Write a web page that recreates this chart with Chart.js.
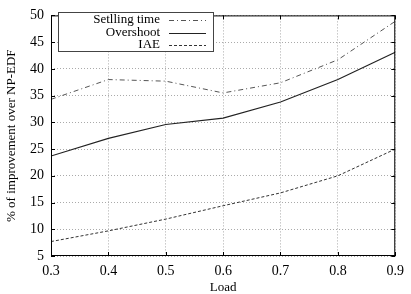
<!DOCTYPE html>
<html><head><meta charset="utf-8">
<script src="https://cdn.jsdelivr.net/npm/chart.js@4/dist/chart.umd.min.js"></script>
<style>html,body{margin:0;padding:0;background:#fff}#w{width:411px;height:294px}</style>
</head><body><div id="w"><canvas id="c" width="411" height="294"></canvas></div>
<script>
const loads = [0.3, 0.4, 0.5, 0.6, 0.7, 0.8, 0.9];
const settlingTime = [34.3, 38.0, 37.7, 35.5, 37.4, 41.7, 48.9];
const overshoot = [23.7, 27.0, 29.6, 30.8, 33.8, 38.0, 43.1];
const iae = [7.7, 9.7, 11.9, 14.4, 16.8, 20.0, 25.0];
const seriesLabels = ['Setlling time', 'Overshoot', 'IAE'];
const xTicks = [0.3, 0.4, 0.5, 0.6, 0.7, 0.8, 0.9];
const yTicks = [5, 10, 15, 20, 25, 30, 35, 40, 45, 50];

const FONT = 'Liberation Serif';
const pts = arr => arr.map((v, i) => ({x: loads[i], y: v}));

const frame = {
  id: 'frame',
  afterDraw(chart) {
    const {ctx, chartArea: a, scales} = chart;
    ctx.save();
    ctx.strokeStyle = '#000'; ctx.lineWidth = 1; ctx.setLineDash([]);
    ctx.strokeRect(a.left + 0.5, a.top + 0.5, a.right - a.left - 1, a.bottom - a.top - 1);
    const L = 4;
    ctx.beginPath();
    xTicks.forEach(t => {
      const x = Math.round(scales.x.getPixelForValue(t)) + 0.5;
      ctx.moveTo(x, a.bottom); ctx.lineTo(x, a.bottom - L);
      ctx.moveTo(x, a.top); ctx.lineTo(x, a.top + L);
    });
    yTicks.forEach(t => {
      const y = Math.round(scales.y.getPixelForValue(t)) + 0.5;
      ctx.moveTo(a.left, y); ctx.lineTo(a.left + L, y);
      ctx.moveTo(a.right, y); ctx.lineTo(a.right - L, y);
    });
    ctx.stroke();
    // legend
    const bx = 58.5, by = 12.5, bw = 155, bh = 39;
    ctx.fillStyle = '#fff';
    ctx.fillRect(bx, by, bw, bh);
    ctx.strokeStyle = '#444';
    ctx.strokeRect(bx, by, bw, bh);
    ctx.font = '13px "' + FONT + '"';
    ctx.textAlign = 'right'; ctx.textBaseline = 'middle';
    chart.data.datasets.forEach((ds, i) => {
      const cy = by + 7.5 + i * 12.5;
      ctx.fillStyle = '#000';
      ctx.fillText(ds.label, 160, cy);
      ctx.strokeStyle = ds.borderColor; ctx.lineWidth = 1;
      ctx.setLineDash(ds.borderDash || []);
      ctx.beginPath();
      ctx.moveTo(169, Math.round(cy) + 0.5); ctx.lineTo(206, Math.round(cy) + 0.5);
      ctx.stroke();
    });
    ctx.restore();
  }
};

new Chart(document.getElementById('c'), {
  type: 'line',
  data: {
    datasets: [
      {label: seriesLabels[0], data: pts(settlingTime), borderColor: '#555', borderWidth: 1, borderDash: [5, 3, 1, 3], pointRadius: 0, tension: 0},
      {label: seriesLabels[1], data: pts(overshoot), borderColor: '#222', borderWidth: 1.2, pointRadius: 0, tension: 0},
      {label: seriesLabels[2], data: pts(iae), borderColor: '#333', borderWidth: 1, borderDash: [3, 2], pointRadius: 0, tension: 0}
    ]
  },
  options: {
    responsive: false, animation: false, devicePixelRatio: 1,
    layout: {padding: {top: 9, right: 9, left: 0, bottom: 0}},
    plugins: {legend: {display: false}, tooltip: {enabled: false}},
    scales: {
      x: {
        type: 'linear', min: 0.3, max: 0.9,
        afterBuildTicks: s => { s.ticks = xTicks.map(v => ({value: v})); },
        afterFit: s => { s.height = 38; },
        grid: {color: '#aaa', lineWidth: 1, drawTicks: false},
        border: {display: false, dash: [1, 2]},
        ticks: {font: {family: FONT, size: 14}, color: '#000', padding: 7, maxRotation: 0,
          callback: v => v.toFixed(1)},
        title: {display: true, text: 'Load', font: {family: FONT, size: 13, lineHeight: 1}, color: '#000', padding: {top: 0, bottom: 0}}
      },
      y: {
        min: 5, max: 50,
        afterBuildTicks: s => { s.ticks = yTicks.map(v => ({value: v})); },
        afterFit: s => { s.width = 51; },
        grid: {color: '#aaa', lineWidth: 1, drawTicks: false},
        border: {display: false, dash: [1, 2]},
        ticks: {font: {family: FONT, size: 14}, color: '#000', padding: 7},
        title: {display: true, text: '% of improvement over NP-EDF', font: {family: FONT, size: 13}, color: '#000', padding: {top: 4, bottom: 0}}
      }
    }
  },
  plugins: [frame]
});
</script></body></html>
